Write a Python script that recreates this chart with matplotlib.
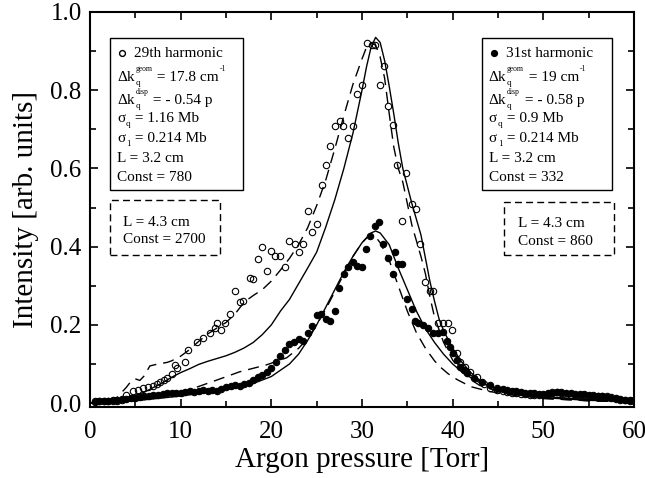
import numpy as np
import matplotlib
matplotlib.use("Agg")
import matplotlib.pyplot as plt
from matplotlib.patches import Rectangle
from matplotlib.ticker import MultipleLocator
from matplotlib.transforms import offset_copy

plt.rcParams['font.family'] = ['Liberation Serif', 'DejaVu Serif']

# 29th harmonic, measured (open circles)
p29 = [0.5, 1.0, 1.5, 2.0, 2.5, 3.0, 3.5, 4.0, 4.7, 5.3, 5.9, 6.4, 7.0, 7.4, 7.7, 8.2, 8.5,
       9.0, 9.4, 9.6, 10.5, 10.8, 11.8, 12.5, 13.2, 13.8, 14.0, 14.5, 14.9, 15.4, 16.0, 16.5,
       16.9, 17.6, 18.0, 18.5, 19.0, 19.5, 20.0, 20.4, 21.0, 21.5, 22.0, 22.6, 23.0, 23.5,
       24.0, 24.5, 25.0, 25.6, 26.0, 26.5, 27.0, 27.6, 27.9, 28.5, 29.0, 29.4, 30.0, 30.5,
       31.1, 31.4, 32.0, 32.4, 32.9, 33.4, 33.9, 34.4, 34.9, 35.5, 36.0, 36.4, 37.0, 37.5,
       37.8, 38.4, 38.9, 39.5, 39.9, 40.5, 40.8, 41.4, 41.9, 42.7, 43.4, 44.1, 44.9, 45.5,
       46.0, 46.5, 47.0, 47.5, 48.0, 48.5, 49.0, 49.5, 50.0, 50.5, 51.0, 51.5, 52.0, 52.5,
       53.0, 53.5, 54.0, 54.5, 55.0, 55.5, 56.0, 56.5, 57.0, 57.5, 58.0, 58.5, 59.0, 59.5, 60.0]
i29 = [0.005, 0.005, 0.005, 0.005, 0.006, 0.006, 0.007, 0.022, 0.030, 0.034, 0.038, 0.041, 0.044,
       0.050, 0.054, 0.060, 0.064, 0.075, 0.098, 0.090, 0.106, 0.137, 0.155, 0.167, 0.180, 0.193,
       0.206, 0.188, 0.206, 0.227, 0.286, 0.258, 0.260, 0.320, 0.318, 0.368, 0.400, 0.338, 0.389,
       0.376, 0.376, 0.348, 0.415, 0.407, 0.386, 0.407, 0.490, 0.438, 0.459, 0.557, 0.608, 0.657,
       0.709, 0.722, 0.709, 0.678, 0.709, 0.789, 0.812, 0.920, 0.915, 0.915, 0.812, 0.861, 0.760,
       0.711, 0.608, 0.466, 0.588, 0.510, 0.497, 0.407, 0.309, 0.286, 0.286, 0.206, 0.206, 0.206,
       0.188, 0.129, 0.106, 0.093, 0.080, 0.067, 0.050, 0.039, 0.033, 0.031, 0.029, 0.027, 0.026,
       0.024, 0.023, 0.022, 0.021, 0.020, 0.020, 0.024, 0.028, 0.028, 0.026, 0.022, 0.021, 0.020,
       0.020, 0.020, 0.019, 0.019, 0.019, 0.018, 0.017, 0.015, 0.010, 0.008, 0.007, 0.006, 0.006]

# 31st harmonic, measured (filled circles)
p31 = [0.5, 1.0, 1.5, 2.0, 2.5, 3.0, 3.5, 4.0, 4.5, 5.0, 5.5, 6.0, 6.5, 7.0, 7.5, 8.0, 8.5, 9.0,
       9.5, 10.0, 10.5, 11.0, 11.5, 12.0, 12.5, 13.0, 13.5, 14.0, 14.5, 15.0, 15.5, 16.0, 16.5,
       17.0, 17.5, 18.0, 18.5, 19.0, 19.5, 20.0, 20.5, 21.0, 21.5, 22.0, 22.5, 23.0, 23.5, 24.0,
       24.5, 25.0, 25.5, 26.0, 26.5, 27.0, 27.5, 28.0, 28.5, 29.0, 29.5, 30.0, 30.4, 30.9, 31.4,
       31.9, 32.3, 32.9, 33.4, 33.6, 34.0, 34.4, 35.0, 35.5, 35.8, 36.2, 36.7, 37.3, 37.8, 38.4,
       38.9, 39.4, 39.7, 40.0, 40.5, 40.8, 41.2, 41.6, 42.3, 43.2, 44.1, 44.9, 45.5, 46.0, 46.5,
       47.0, 47.5, 48.0, 48.5, 49.0, 49.5, 50.0, 50.5, 51.0, 51.5, 52.0, 52.5, 53.0, 53.5, 54.0,
       54.5, 55.0, 55.5, 56.0, 56.5, 57.0, 57.5, 58.0, 58.5, 59.0, 59.5, 60.0]
i31 = [0.004, 0.005, 0.005, 0.006, 0.007, 0.008, 0.010, 0.011, 0.012, 0.014, 0.016, 0.018, 0.019,
       0.020, 0.022, 0.024, 0.026, 0.025, 0.027, 0.026, 0.028, 0.030, 0.029, 0.031, 0.033, 0.030,
       0.034, 0.030, 0.036, 0.040, 0.043, 0.046, 0.044, 0.050, 0.052, 0.058, 0.066, 0.072, 0.080,
       0.090, 0.104, 0.120, 0.136, 0.150, 0.155, 0.165, 0.160, 0.178, 0.196, 0.225, 0.228, 0.215,
       0.210, 0.235, 0.295, 0.330, 0.348, 0.362, 0.350, 0.348, 0.394, 0.428, 0.454, 0.463, 0.407,
       0.370, 0.330, 0.387, 0.356, 0.356, 0.265, 0.240, 0.210, 0.206, 0.200, 0.193, 0.180, 0.180,
       0.183, 0.160, 0.144, 0.129, 0.111, 0.093, 0.085, 0.077, 0.064, 0.054, 0.046, 0.039, 0.036,
       0.033, 0.031, 0.030, 0.028, 0.027, 0.026, 0.025, 0.024, 0.024, 0.025, 0.027, 0.028, 0.028,
       0.026, 0.025, 0.024, 0.023, 0.023, 0.022, 0.021, 0.019, 0.017, 0.016, 0.014, 0.012, 0.010,
       0.009, 0.008, 0.007]

# model curves, L = 3.2 cm (solid)
ps29 = [0, 2, 4, 6, 7, 8, 9, 10, 11, 12, 13, 14, 15, 16, 17, 18, 19, 20, 21, 22, 23, 24, 25, 26,
        27, 28, 29, 30, 30.5, 31, 31.5, 32, 32.5, 33, 33.5, 34, 34.5, 35, 35.5, 36, 36.5, 37,
        37.5, 38, 38.5, 39, 40, 41, 42, 43, 44, 45, 47, 50, 55, 60]
is29 = [0.0, 0.004, 0.012, 0.028, 0.040, 0.052, 0.066, 0.078, 0.088, 0.099, 0.107, 0.114, 0.121,
        0.130, 0.141, 0.155, 0.175, 0.200, 0.235, 0.265, 0.305, 0.345, 0.386, 0.450, 0.520, 0.600,
        0.690, 0.800, 0.860, 0.910, 0.935, 0.922, 0.875, 0.810, 0.740, 0.665, 0.600, 0.555, 0.510,
        0.470, 0.430, 0.370, 0.310, 0.260, 0.215, 0.185, 0.140, 0.105, 0.078, 0.058, 0.044, 0.035,
        0.023, 0.014, 0.007, 0.004]
ps31 = [0, 5, 10, 15, 18, 20, 22, 23, 24, 25, 26, 27, 28, 29, 30, 31, 31.5, 32, 33, 34, 35, 36,
        37, 38, 39, 40, 41, 42, 43, 45, 47, 50, 55, 60]
is31 = [0.0, 0.006, 0.018, 0.035, 0.050, 0.068, 0.100, 0.125, 0.160, 0.200, 0.245, 0.290, 0.335,
        0.375, 0.410, 0.435, 0.440, 0.435, 0.405, 0.345, 0.290, 0.235, 0.190, 0.155, 0.125, 0.100,
        0.080, 0.065, 0.052, 0.036, 0.026, 0.017, 0.009, 0.005]

# model curves, L = 4.3 cm (dashed)
pd29 = [0, 2, 3, 4, 4.5, 5, 5.5, 6, 6.6, 7.5, 8.5, 9, 10, 11, 12, 13, 14, 15, 16, 17, 18, 19, 20,
        21, 22, 23, 24, 25, 26, 27, 28, 29, 30, 30.5, 31, 31.5, 32, 32.5, 33, 33.5, 34, 34.5, 35,
        35.5, 36, 36.5, 37, 37.5, 38, 39, 40, 41, 42, 43, 45, 50, 55, 60]
id29 = [0.0, 0.005, 0.015, 0.040, 0.055, 0.062, 0.058, 0.070, 0.095, 0.100, 0.104, 0.108, 0.120,
        0.137, 0.158, 0.177, 0.192, 0.206, 0.228, 0.258, 0.275, 0.290, 0.312, 0.340, 0.370, 0.405,
        0.448, 0.505, 0.570, 0.650, 0.735, 0.815, 0.880, 0.910, 0.920, 0.915, 0.885, 0.830, 0.740,
        0.655, 0.600, 0.565, 0.510, 0.455, 0.415, 0.375, 0.330, 0.270, 0.220, 0.155, 0.110, 0.080,
        0.060, 0.045, 0.030, 0.012, 0.006, 0.003]
pd31 = [0, 5, 8, 10, 11.8, 14, 16.5, 19.5, 21.7, 23, 24, 25, 26, 27, 28, 29, 30, 30.5, 31, 31.5,
        32, 33, 34, 35, 36, 37, 38, 38.6, 39.5, 40.5, 42, 44, 46, 50, 55, 60]
id31 = [0.0, 0.012, 0.020, 0.028, 0.041, 0.059, 0.080, 0.098, 0.116, 0.140, 0.165, 0.200, 0.240,
        0.285, 0.330, 0.375, 0.410, 0.422, 0.428, 0.425, 0.410, 0.365, 0.300, 0.235, 0.180, 0.140,
        0.108, 0.093, 0.075, 0.060, 0.042, 0.030, 0.022, 0.012, 0.006, 0.003]

# box texts: each line is a list of groups, a group is pieces sharing one x start
# piece = (text, fontsize, baseline shift in points)
left_lines = [
    [[('\u0394k', 11, 0)], [('q', 6.5, -3), ('geom', 5.5, 7)], [(' = 17.8 cm', 11, 0)], [('-1', 5.5, 7)]],
    [[('\u0394k', 11, 0)], [('q', 6.5, -3), ('disp', 5.5, 7)], [(' = - 0.54 p', 11, 0)]],
    [[('\u03c3', 11, 0)], [('q', 6.5, -3)], [(' = 1.16 Mb', 11, 0)]],
    [[('\u03c3', 11, 0)], [('1', 6.5, -3)], [(' = 0.214 Mb', 11, 0)]],
    [[('L = 3.2 cm', 11, 0)]],
    [[('Const = 780', 11, 0)]],
]
right_lines = [
    [[('\u0394k', 11, 0)], [('q', 6.5, -3), ('geom', 5.5, 7)], [(' = 19 cm', 11, 0)], [('-1', 5.5, 7)]],
    [[('\u0394k', 11, 0)], [('q', 6.5, -3), ('disp', 5.5, 7)], [(' = - 0.58 p', 11, 0)]],
    [[('\u03c3', 11, 0)], [('q', 6.5, -3)], [(' = 0.9 Mb', 11, 0)]],
    [[('\u03c3', 11, 0)], [('1', 6.5, -3)], [(' = 0.214 Mb', 11, 0)]],
    [[('L = 3.2 cm', 11, 0)]],
    [[('Const = 332', 11, 0)]],
]
line_y = [0.825, 0.767, 0.722, 0.671, 0.620, 0.572]

fig = plt.figure(figsize=(6.45, 4.78), dpi=100)
ax = fig.add_axes([0.1395, 0.1485, 0.8435, 0.8265])

ax.plot(ps29, is29, color='black', lw=1.0)
ax.plot(ps31, is31, color='black', lw=1.0)
ax.plot(pd29, id29, color='black', lw=1.0, linestyle=(0, (8, 5)))
ax.plot(pd31, id31, color='black', lw=1.0, linestyle=(0, (8, 5)))
ax.plot(p29, i29, 'o', ms=4.6, mfc='none', mec='black', mew=0.8)
ax.plot(p31, i31, 'o', ms=4.6, mfc='black', mec='black', mew=0.8)

ax.set_xlim(0, 60)
ax.set_ylim(-0.01, 1.0)
ax.xaxis.set_major_locator(MultipleLocator(10))
ax.xaxis.set_minor_locator(MultipleLocator(5))
ax.yaxis.set_major_locator(MultipleLocator(0.2))
ax.yaxis.set_minor_locator(MultipleLocator(0.1))
ax.yaxis.set_major_formatter(plt.FormatStrFormatter('%.1f'))
ax.tick_params(which='both', direction='in', top=True, right=True, width=1.2, labelsize=18)
ax.tick_params(which='major', length=6, pad=6)
ax.tick_params(axis='x', which='major', pad=10)
ax.tick_params(which='minor', length=4)
for s in ax.spines.values():
    s.set_linewidth(1.5)

ax.set_xlabel('Argon pressure [Torr]', fontsize=21, labelpad=3)
ax.set_ylabel('Intensity [arb. units]', fontsize=21, labelpad=8)

# parameter boxes
ax.add_patch(Rectangle((0.037, 0.549), 0.244, 0.385, transform=ax.transAxes,
                       fill=False, ec='black', lw=1.0))
ax.add_patch(Rectangle((0.037, 0.385), 0.202, 0.139, transform=ax.transAxes,
                       fill=False, ec='black', lw=1.0, linestyle=(0, (5, 3))))
ax.add_patch(Rectangle((0.72, 0.549), 0.24, 0.385, transform=ax.transAxes,
                       fill=False, ec='black', lw=1.0))
ax.add_patch(Rectangle((0.761, 0.385), 0.202, 0.134, transform=ax.transAxes,
                       fill=False, ec='black', lw=1.0, linestyle=(0, (5, 3))))

renderer = fig.canvas.get_renderer()


def put_line(x, y, groups):
    dx = 0.0
    for grp in groups:
        w = 0.0
        for txt, size, dy in grp:
            tr = offset_copy(ax.transAxes, fig=fig, x=dx, y=dy, units='points')
            t = ax.text(x, y, txt, transform=tr, fontsize=size, va='baseline', ha='left')
            w = max(w, t.get_window_extent(renderer).width * 72.0 / fig.dpi)
        dx += w + 0.5


for y, gl, gr in zip(line_y, left_lines, right_lines):
    put_line(0.05, y, gl)
    put_line(0.733, y, gr)

ax.plot([0.058], [0.897], 'o', ms=4.2, mfc='none', mec='black', mew=1.0, transform=ax.transAxes)
ax.text(0.08, 0.886, '29th harmonic', transform=ax.transAxes, fontsize=11, va='baseline')
ax.plot([0.742], [0.897], 'o', ms=4.2, mfc='black', mec='black', transform=ax.transAxes)
ax.text(0.765, 0.886, '31st harmonic', transform=ax.transAxes, fontsize=11, va='baseline')

ax.text(0.061, 0.468, 'L = 4.3 cm', transform=ax.transAxes, fontsize=11, va='center')
ax.text(0.061, 0.423, 'Const = 2700', transform=ax.transAxes, fontsize=11, va='center')
ax.text(0.787, 0.465, 'L = 4.3 cm', transform=ax.transAxes, fontsize=11, va='center')
ax.text(0.787, 0.418, 'Const = 860', transform=ax.transAxes, fontsize=11, va='center')

fig.savefig('out.png', dpi=100)
